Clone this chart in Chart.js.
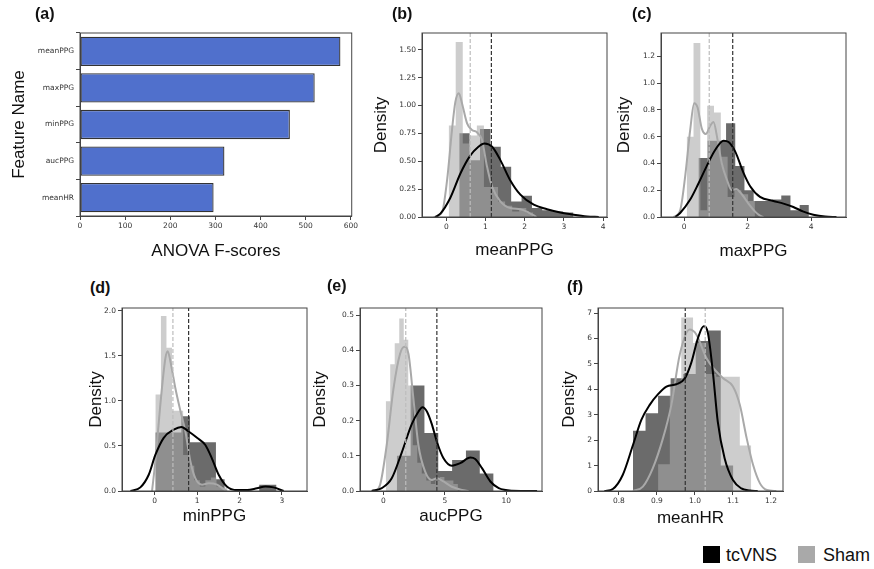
<!DOCTYPE html>
<html>
<head>
<meta charset="utf-8">
<script src="https://cdn.jsdelivr.net/npm/chart.js@4.4.1/dist/chart.umd.min.js"></script>
<style>
  body { margin: 0; background: #fff; }
  #fig { position: relative; width: 874px; height: 569px; overflow: hidden; font-family: "Liberation Sans", Arial, sans-serif; color: #111; }
  canvas { position: absolute; }
  .tag { position: absolute; font-weight: bold; font-size: 16px; line-height: 20px; }
  .sw { position: absolute; width: 17px; height: 17px; }
  .lt { position: absolute; font-size: 18px; line-height: 20px; }
</style>
</head>
<body>
<div id="fig">
  <canvas id="cA" width="351" height="242" style="left:9px;top:20px"></canvas>
  <canvas id="cB" width="241" height="236" style="left:371px;top:25px"></canvas>
  <canvas id="cC" width="238" height="237" style="left:614px;top:25px"></canvas>
  <canvas id="cD" width="226" height="227" style="left:86px;top:300px"></canvas>
  <canvas id="cE" width="237" height="227" style="left:310px;top:300px"></canvas>
  <canvas id="cF" width="230" height="229" style="left:559px;top:300px"></canvas>

  <div class="tag" style="left:35px;top:4px">(a)</div>
  <div class="tag" style="left:392px;top:4px">(b)</div>
  <div class="tag" style="left:632px;top:4px">(c)</div>
  <div class="tag" style="left:90px;top:278px">(d)</div>
  <div class="tag" style="left:327px;top:276px">(e)</div>
  <div class="tag" style="left:567px;top:277px">(f)</div>

  <div class="sw" style="left:703px;top:546px;background:#000"></div>
  <div class="lt" style="left:726px;top:545px">tcVNS</div>
  <div class="sw" style="left:798px;top:546px;background:#a9a9a9"></div>
  <div class="lt" style="left:823px;top:545px">Sham</div>
</div>
<script>
// (a) feature ranking
const features = ["meanPPG", "maxPPG", "minPPG", "aucPPG", "meanHR"];
const fScores = [577, 520, 465, 320, 296];
const fTicks = ["0", "100", "200", "300", "400", "500", "600"];

// (b) meanPPG
const meanPPG_tcEdges = [0.33, 0.595, 0.86, 1.125, 1.39, 1.655, 1.92, 2.185, 2.45, 2.715, 2.98, 3.245];
const meanPPG_tcHeights = [0.75, 0.51, 0.79, 0.63, 0.45, 0.14, 0.19, 0.08, 0.06, 0.05, 0.04];
const meanPPG_shamEdges = [0.06, 0.24, 0.42, 0.60, 0.78, 0.96, 1.14, 1.32, 1.50, 1.68, 1.86, 2.04, 2.22];
const meanPPG_shamHeights = [0.82, 1.57, 0.66, 0.73, 0.82, 0.27, 0.27, 0.14, 0.10, 0.05, 0.08, 0.04];
const meanPPG_tcKdeX = [-0.28, -0.15, 0.1, 0.36, 0.61, 0.82, 0.97, 1.17, 1.38, 1.63, 1.89, 2.23, 2.57, 2.91, 3.25, 3.59, 3.89];
const meanPPG_tcKdeY = [0, 0.03, 0.17, 0.39, 0.55, 0.63, 0.66, 0.63, 0.51, 0.33, 0.20, 0.11, 0.07, 0.04, 0.02, 0.005, 0];
const meanPPG_shamKdeX = [-0.32, -0.11, 0.02, 0.145, 0.23, 0.32, 0.40, 0.53, 0.655, 0.78, 0.91, 1.04, 1.17, 1.38, 1.63, 1.89, 2.1, 2.3];
const meanPPG_shamKdeY = [0, 0.04, 0.33, 0.78, 1.03, 1.11, 1.02, 0.84, 0.78, 0.76, 0.69, 0.45, 0.27, 0.14, 0.08, 0.07, 0.04, 0];
const meanPPG_means = [1.15, 0.61];

// (c) maxPPG
const maxPPG_tcEdges = [0.45, 0.74, 1.03, 1.32, 1.61, 1.90, 2.19, 2.48, 2.77, 3.06, 3.35, 3.64, 3.93];
const maxPPG_tcHeights = [0.44, 0.57, 0.57, 0.70, 0.38, 0.20, 0.12, 0.12, 0.13, 0.16, 0.05, 0.09];
const maxPPG_shamEdges = [0.08, 0.295, 0.51, 0.725, 0.94, 1.155, 1.37, 1.585, 1.80, 2.015, 2.23];
const maxPPG_shamHeights = [0.60, 1.30, 0.05, 0.83, 0.78, 0.45, 0.15, 0.20, 0.17, 0.12];
const maxPPG_tcKdeX = [-0.28, -0.126, 0.19, 0.45, 0.71, 0.976, 1.24, 1.40, 1.606, 1.87, 2.08, 2.39, 2.81, 3.13, 3.44, 3.76, 4.07, 4.44, 4.8];
const maxPPG_tcKdeY = [0, 0.03, 0.13, 0.25, 0.38, 0.50, 0.57, 0.56, 0.49, 0.33, 0.23, 0.15, 0.12, 0.10, 0.075, 0.04, 0.017, 0.003, 0];
const maxPPG_shamKdeX = [-0.336, -0.126, 0.03, 0.19, 0.315, 0.42, 0.556, 0.682, 0.819, 0.924, 1.05, 1.187, 1.344, 1.50, 1.638, 1.816, 2.026, 2.236, 2.39, 2.5];
const maxPPG_shamKdeY = [0, 0.05, 0.30, 0.65, 0.85, 0.82, 0.66, 0.62, 0.68, 0.71, 0.58, 0.40, 0.28, 0.20, 0.21, 0.17, 0.10, 0.04, 0.01, 0];
const maxPPG_means = [1.53, 0.79];

// (d) minPPG
const minPPG_tcEdges = [0.016, 0.22, 0.424, 0.628, 0.832, 1.036, 1.24, 1.444, 1.648, 1.852, 2.056, 2.26, 2.464, 2.668, 2.872];
const minPPG_tcHeights = [0.65, 0.65, 0.65, 0.83, 0.54, 0.54, 0.54, 0.13, 0, 0, 0, 0, 0.07, 0.07];
const minPPG_shamEdges = [0.016, 0.147, 0.278, 0.409, 0.54, 0.671, 0.802, 0.933, 1.064, 1.195, 1.326, 1.457, 1.588, 1.719];
const minPPG_shamHeights = [1.07, 1.94, 1.59, 0.89, 0.89, 0.40, 0.28, 0.12, 0.05, 0.12, 0.15, 0.05, 0.04];
const minPPG_tcKdeX = [-0.57, -0.337, -0.14, 0.016, 0.213, 0.449, 0.629, 0.802, 0.998, 1.194, 1.35, 1.508, 1.70, 1.94, 2.18, 2.41, 2.61, 2.80, 3.04];
const minPPG_tcKdeY = [0, 0.04, 0.18, 0.40, 0.59, 0.68, 0.71, 0.66, 0.59, 0.51, 0.36, 0.18, 0.05, 0.01, 0.01, 0.03, 0.05, 0.04, 0];
const minPPG_shamKdeX = [-0.062, 0.016, 0.134, 0.252, 0.307, 0.37, 0.488, 0.606, 0.724, 0.841, 0.96, 1.116, 1.273, 1.47, 1.625, 1.70];
const minPPG_shamKdeY = [0, 0.33, 0.96, 1.47, 1.55, 1.44, 1.14, 0.89, 0.66, 0.33, 0.14, 0.07, 0.085, 0.07, 0.02, 0];
const minPPG_means = [0.80, 0.43];

// (e) aucPPG
const aucPPG_tcEdges = [1.09, 2.215, 3.34, 4.465, 5.59, 6.715, 7.84, 8.965];
const aucPPG_tcHeights = [0.10, 0.30, 0.165, 0.057, 0.088, 0.115, 0.05];
const aucPPG_shamEdges = [0.19, 0.557, 0.924, 1.291, 1.658, 2.025, 2.392, 2.759, 3.126, 3.493, 3.86, 4.227, 4.594, 4.961, 5.328, 5.695, 6.062];
const aucPPG_shamHeights = [0.255, 0.36, 0.42, 0.49, 0.43, 0.30, 0.13, 0.08, 0.05, 0.03, 0.02, 0.03, 0.04, 0.03, 0.03, 0.02];
const aucPPG_tcKdeX = [-0.95, -0.13, 0.68, 1.5, 2.31, 2.86, 3.18, 3.54, 3.94, 4.35, 4.89, 5.57, 6.25, 7.07, 7.47, 8.02, 8.7, 9.38, 10.46, 12.5];
const aucPPG_tcKdeY = [0, 0.008, 0.036, 0.11, 0.19, 0.226, 0.238, 0.226, 0.19, 0.14, 0.093, 0.072, 0.079, 0.095, 0.091, 0.065, 0.027, 0.008, 0.001, 0];
const aucPPG_shamKdeX = [-0.68, -0.27, 0.27, 0.82, 1.36, 1.71, 2.04, 2.45, 2.85, 3.4, 3.94, 4.35, 4.89, 5.57, 6.39, 6.93];
const aucPPG_shamKdeY = [0, 0.017, 0.13, 0.29, 0.39, 0.41, 0.39, 0.26, 0.13, 0.055, 0.031, 0.036, 0.027, 0.012, 0.003, 0];
const aucPPG_means = [4.35, 1.82];

// (f) meanHR
const meanHR_tcEdges = [0.837, 0.870, 0.903, 0.936, 0.969, 1.002, 1.035, 1.068, 1.101];
const meanHR_tcHeights = [2.37, 3.06, 3.75, 4.44, 4.6, 5.9, 6.31, 1.0];
const meanHR_shamEdges = [0.903, 0.934, 0.964, 0.995, 1.026, 1.056, 1.087, 1.118, 1.148];
const meanHR_shamHeights = [1.05, 4.2, 6.83, 5.82, 4.6, 4.5, 4.5, 1.79];
const meanHR_tcKdeX = [0.762, 0.784, 0.810, 0.837, 0.859, 0.881, 0.903, 0.925, 0.951, 0.973, 0.99, 1.008, 1.023, 1.034, 1.047, 1.06, 1.078, 1.1, 1.122, 1.144, 1.165];
const meanHR_tcKdeY = [0, 0.08, 0.63, 1.81, 2.8, 3.39, 3.81, 4.11, 4.2, 4.42, 5.03, 6.02, 6.48, 6.22, 4.7, 2.73, 1.29, 0.43, 0.1, 0.02, 0];
const meanHR_shamKdeX = [0.837, 0.863, 0.889, 0.916, 0.938, 0.96, 0.986, 1.004, 1.03, 1.052, 1.074, 1.1, 1.118, 1.136, 1.153, 1.171, 1.189, 1.214];
const meanHR_shamKdeY = [0, 0.17, 0.89, 2.08, 3.39, 5.36, 6.35, 6.15, 5.23, 4.77, 4.44, 4.11, 3.39, 2.08, 1.02, 0.3, 0.04, 0];
const meanHR_means = [0.9745, 1.027];

Chart.defaults.font.family = "DejaVu Sans";
Chart.defaults.color = "#333";

const TC_FILL = "rgba(0,0,0,0.58)";
const SHAM_FILL = "rgba(169,169,169,0.58)";
const AXIS = "#444";
const tickFont = { family: "DejaVu Sans", size: 7.5 };
const titleFont = { family: "Liberation Sans", size: 17 };

// matplotlib-style box around the plot area
const frame = {
  id: "frame",
  afterDraw(chart) {
    const { ctx, chartArea: a } = chart;
    ctx.save();
    ctx.strokeStyle = AXIS;
    ctx.lineWidth = 1;
    ctx.strokeRect(a.left, a.top, a.right - a.left, a.bottom - a.top);
    ctx.restore();
  }
};

function stepPoints(edges, heights) {
  return edges.map((e, i) => ({ x: e, y: i < heights.length ? heights[i] : 0 }));
}
function curvePoints(xs, ys) {
  return xs.map((x, i) => ({ x: x, y: ys[i] }));
}

function axis(o) {
  return {
    type: "linear",
    min: o.min,
    max: o.max,
    afterFit: s => { if (o.w !== undefined) s.width = o.w; if (o.h !== undefined) s.height = o.h; },
    afterBuildTicks: s => { s.ticks = o.ticks.map(t => ({ value: Number(t) })); },
    ticks: { callback: (v, i) => o.ticks[i], font: tickFont, color: "#333", autoSkip: false, maxRotation: 0, padding: 2 },
    grid: { drawOnChartArea: false, drawTicks: true, tickLength: 4, color: AXIS },
    border: { display: true, color: AXIS },
    title: { display: true, text: o.title, font: titleFont, color: "#111", padding: 0 }
  };
}

function densityPanel(id, p) {
  const hist = (edges, heights, fill, order) => ({
    data: stepPoints(edges, heights), stepped: true, fill: "origin",
    backgroundColor: fill, borderColor: "rgba(0,0,0,0)", borderWidth: 0, pointRadius: 0, order: order
  });
  const kde = (xs, ys, color, order) => ({
    data: curvePoints(xs, ys), cubicInterpolationMode: "monotone", fill: false,
    borderColor: color, borderWidth: 2, pointRadius: 0, order: order
  });
  const mean = (m, color, order) => ({
    data: [{ x: m, y: 0 }, { x: m, y: p.yMax }], fill: false,
    borderColor: color, borderWidth: 1.2, borderDash: [4, 2], pointRadius: 0, order: order
  });
  new Chart(document.getElementById(id), {
    type: "line",
    data: {
      datasets: [
        hist(p.tcEdges, p.tcHeights, TC_FILL, 5),
        hist(p.shamEdges, p.shamHeights, SHAM_FILL, 4),
        kde(p.shamKdeX, p.shamKdeY, "#a9a9a9", 3),
        kde(p.tcKdeX, p.tcKdeY, "#000", 2),
        mean(p.means[1], "#bdbdbd", 1),
        mean(p.means[0], "#333", 0)
      ]
    },
    options: {
      responsive: false,
      animation: false,
      layout: { padding: { top: p.padTop, right: p.padRight, left: 0, bottom: 0 } },
      plugins: { legend: { display: false }, tooltip: { enabled: false } },
      scales: {
        x: axis({ min: p.xMin, max: p.xMax, ticks: p.xTicks, title: p.xTitle, h: p.xAxisH }),
        y: axis({ min: 0, max: p.yMax, ticks: p.yTicks, title: "Density", w: p.yAxisW })
      }
    },
    plugins: [frame]
  });
}

// (a)
const xA = axis({ min: 0, max: 602, ticks: fTicks, title: "ANOVA F-scores", h: 46 });
new Chart(document.getElementById("cA"), {
  type: "bar",
  data: {
    labels: features,
    datasets: [{
      data: fScores, backgroundColor: "#5070cc", borderColor: "#333", borderWidth: 1.3,
      borderSkipped: false, barPercentage: 0.8, categoryPercentage: 1
    }]
  },
  options: {
    indexAxis: "y",
    responsive: false,
    animation: false,
    layout: { padding: { top: 13, right: 7, left: 0, bottom: 0 } },
    plugins: { legend: { display: false }, tooltip: { enabled: false } },
    scales: {
      x: xA,
      y: {
        afterFit: s => { s.width = 71; },
        ticks: { font: tickFont, color: "#333", padding: 2 },
        grid: { drawOnChartArea: false, drawTicks: true, tickLength: 4, color: AXIS },
        border: { display: true, color: AXIS },
        title: { display: true, text: "Feature Name", font: titleFont, color: "#111", padding: 0 }
      }
    }
  },
  plugins: [frame]
});

densityPanel("cB", {
  tcEdges: meanPPG_tcEdges, tcHeights: meanPPG_tcHeights,
  shamEdges: meanPPG_shamEdges, shamHeights: meanPPG_shamHeights,
  tcKdeX: meanPPG_tcKdeX, tcKdeY: meanPPG_tcKdeY,
  shamKdeX: meanPPG_shamKdeX, shamKdeY: meanPPG_shamKdeY, means: meanPPG_means,
  xMin: -0.62, xMax: 4.1, yMax: 1.65,
  xTicks: ["0", "1", "2", "3", "4"],
  yTicks: ["0.00", "0.25", "0.50", "0.75", "1.00", "1.25", "1.50"],
  xTitle: "meanPPG", yAxisW: 51, xAxisH: 44, padTop: 8, padRight: 5
});

densityPanel("cC", {
  tcEdges: maxPPG_tcEdges, tcHeights: maxPPG_tcHeights,
  shamEdges: maxPPG_shamEdges, shamHeights: maxPPG_shamHeights,
  tcKdeX: maxPPG_tcKdeX, tcKdeY: maxPPG_tcKdeY,
  shamKdeX: maxPPG_shamKdeX, shamKdeY: maxPPG_shamKdeY, means: maxPPG_means,
  xMin: -0.73, xMax: 5.1, yMax: 1.374,
  xTicks: ["0", "2", "4"],
  yTicks: ["0.0", "0.2", "0.4", "0.6", "0.8", "1.0", "1.2"],
  xTitle: "maxPPG", yAxisW: 47, xAxisH: 45, padTop: 8, padRight: 6
});

densityPanel("cD", {
  tcEdges: minPPG_tcEdges, tcHeights: minPPG_tcHeights,
  shamEdges: minPPG_shamEdges, shamHeights: minPPG_shamHeights,
  tcKdeX: minPPG_tcKdeX, tcKdeY: minPPG_tcKdeY,
  shamKdeX: minPPG_shamKdeX, shamKdeY: minPPG_shamKdeY, means: minPPG_means,
  xMin: -0.77, xMax: 3.59, yMax: 2.03,
  xTicks: ["0", "1", "2", "3"],
  yTicks: ["0.0", "0.5", "1.0", "1.5", "2.0"],
  xTitle: "minPPG", yAxisW: 36, xAxisH: 36, padTop: 8, padRight: 5
});

densityPanel("cE", {
  tcEdges: aucPPG_tcEdges, tcHeights: aucPPG_tcHeights,
  shamEdges: aucPPG_shamEdges, shamHeights: aucPPG_shamHeights,
  tcKdeX: aucPPG_tcKdeX, tcKdeY: aucPPG_tcKdeY,
  shamKdeX: aucPPG_shamKdeX, shamKdeY: aucPPG_shamKdeY, means: aucPPG_means,
  xMin: -1.9, xMax: 12.9, yMax: 0.52,
  xTicks: ["0", "5", "10"],
  yTicks: ["0.0", "0.1", "0.2", "0.3", "0.4", "0.5"],
  xTitle: "aucPPG", yAxisW: 50, xAxisH: 36, padTop: 8, padRight: 5
});

densityPanel("cF", {
  tcEdges: meanHR_tcEdges, tcHeights: meanHR_tcHeights,
  shamEdges: meanHR_shamEdges, shamHeights: meanHR_shamHeights,
  tcKdeX: meanHR_tcKdeX, tcKdeY: meanHR_tcKdeY,
  shamKdeX: meanHR_shamKdeX, shamKdeY: meanHR_shamKdeY, means: meanHR_means,
  xMin: 0.745, xMax: 1.2316, yMax: 7.2,
  xTicks: ["0.8", "0.9", "1.0", "1.1", "1.2"],
  yTicks: ["0", "1", "2", "3", "4", "5", "6", "7"],
  xTitle: "meanHR", yAxisW: 39, xAxisH: 38, padTop: 8, padRight: 6
});
</script>
</body>
</html>
